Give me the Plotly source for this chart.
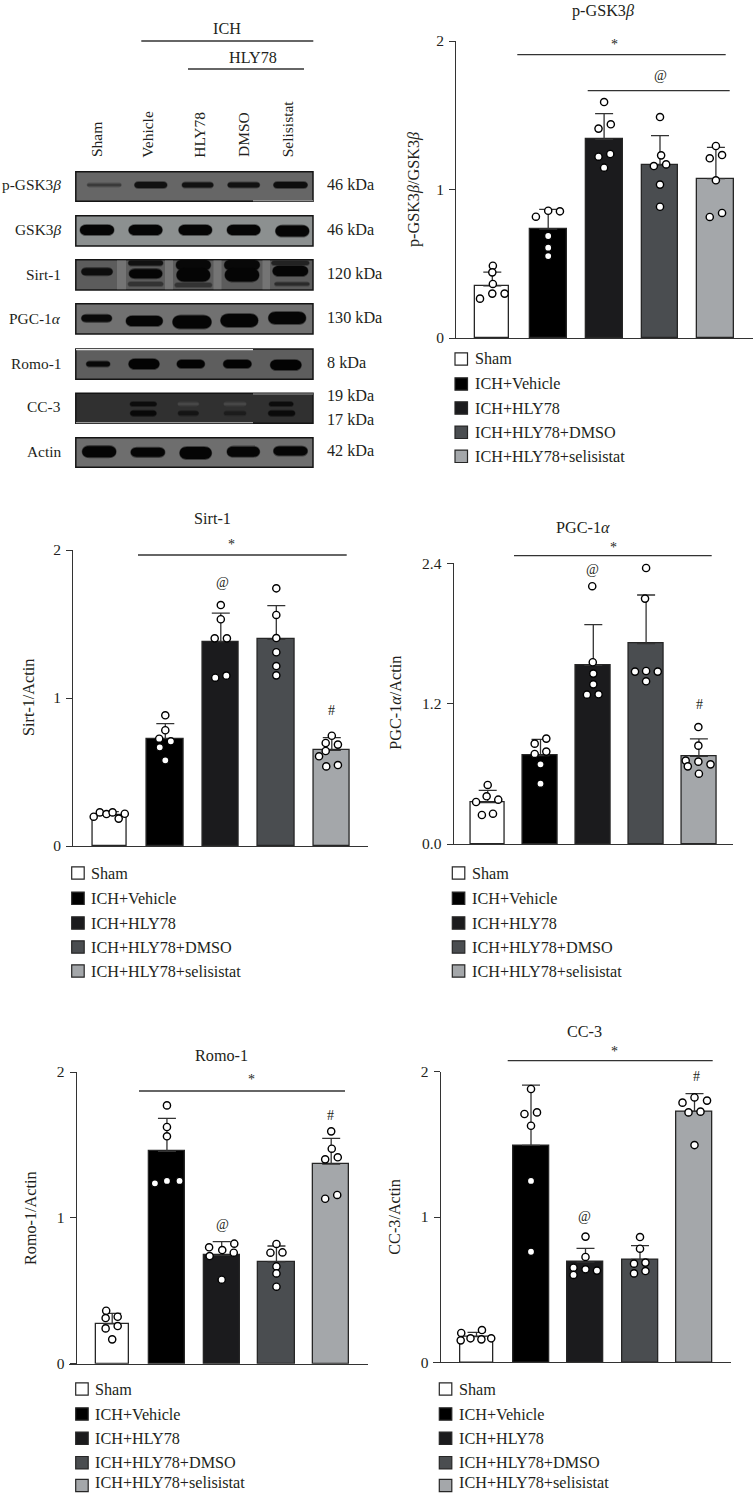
import plotly.graph_objects as go

W, H = 753, 1493
FONT = "Liberation Serif"
TXT = "#231f20"
LINE = "#333333"

GROUPS = ["Sham", "ICH+Vehicle", "ICH+HLY78", "ICH+HLY78+DMSO", "ICH+HLY78+selisistat"]
GROUP_COLORS = ["#ffffff", "#000000", "#1b1b1d", "#4a4d50", "#a4a7aa"]

# --- p-GSK3beta
PGSK_MEAN = [0.352, 0.734, 1.338, 1.163, 1.073]
PGSK_UP = [0.444, 0.866, 1.511, 1.363, 1.284]
PGSK_DOTS = [[.487, .442, .364, .299, .299, .265], [.857, .853, .817, .687, .608, .552],
             [1.589, 1.439, 1.410, 1.239, 1.221, 1.147], [1.488, 1.230, 1.169, 1.158, 1.033, .884],
             [1.293, 1.232, 1.210, 1.062, .842, .815]]
PGSK_OFFS = [[.01, 0, .01, 0, .22, -.22], [0, .21, -.22, 0, 0, 0], [0, .12, -.10, .11, -.10, 0],
             [0, .02, .11, -.11, 0, 0], [0, .11, -.11, 0, .11, -.11]]
# --- Sirt-1
SIRT_MEAN = [0.209, 0.725, 1.381, 1.396, 0.646]
SIRT_UP = [0.232, 0.827, 1.574, 1.624, 0.732]
SIRT_DOTS = [[.198, .227, .216, .227, .185, .218], [.883, .782, .725, .707, .667, .579],
             [1.628, 1.532, 1.403, 1.403, 1.137, 1.151], [1.741, 1.561, 1.405, 1.309, 1.216, 1.153],
             [.745, .696, .685, .642, .606, .538, .547]]
SIRT_OFFS = [[-.29, -.18, -.06, .05, .16, .27], [0, 0, -.11, .10, -.10, 0], [0, 0, -.11, .11, -.10, .10],
             [0, 0, 0, 0, 0, 0], [0, -.11, .11, -.11, -.23, -.10, .11]]
# --- PGC-1alpha
PGC_MEAN = [0.353, 0.755, 1.528, 1.713, 0.750]
PGC_UP = [0.459, 0.895, 1.876, 2.129, 0.898]
PGC_DOTS = [[.505, .408, .359, .379, .248, .259], [.901, .858, .790, .770, .681, .516],
            [2.204, 1.554, 1.457, 1.365, 1.277, 1.280], [2.360, 2.098, 1.474, 1.479, 1.474, 1.391],
            [1.0, .841, .713, .704, .681, .664, .601]]
PGC_OFFS = [[0, -.02, -.22, .20, -.11, .10], [.11, -.11, .11, -.11, 0, 0], [-.02, -.01, 0, 0, -.12, .10],
            [0, -.02, -.21, 0, .22, 0], [-.01, -.01, -.25, -.01, .22, -.21, 0]]
# --- Romo-1
ROMO_MEAN = [0.274, 1.456, 0.743, 0.699, 1.369]
ROMO_UP = [0.345, 1.682, 0.837, 0.807, 1.545]
ROMO_DOTS = [[.363, .313, .322, .258, .242, .167], [1.771, 1.623, 1.559, 1.237, 1.253, 1.253],
             [.823, .798, .779, .761, .738, .576], [.821, .761, .763, .667, .619, .528],
             [1.593, 1.474, 1.415, 1.401, 1.157, 1.131]]
ROMO_OFFS = [[-.11, -.12, .10, .10, -.12, 0], [0, 0, 0, -.22, 0, .23], [.23, -.23, .01, .22, -.22, 0],
             [0, -.11, .11, 0, 0, 0], [0, .01, .12, -.11, .11, -.11]]
# --- CC-3
CC3_MEAN = [0.177, 1.493, 0.690, 0.709, 1.727]
CC3_UP = [0.206, 1.908, 0.784, 0.803, 1.849]
CC3_DOTS = [[.222, .202, .165, .158, .165, .151], [1.881, 1.720, 1.709, 1.628, 1.248, .761],
            [.865, .725, .651, .640, .631, .601], [.862, .782, .679, .686, .628, .612],
            [1.823, 1.801, 1.787, 1.725, 1.720, 1.495]]
CC3_OFFS = [[.10, -.28, -.11, .09, .27, -.29], [0, .11, -.12, 0, 0, 0], [0, 0, -.22, 0, .21, -.22],
            [0, 0, -.11, .10, .10, -.11], [0, .23, -.22, .11, -.11, 0]]

# Blot band intensities/labels
BLOT_ROWS = ["p-GSK3<i>β</i>", "GSK3<i>β</i>", "Sirt-1", "PGC-1<i>α</i>", "Romo-1", "CC-3", "Actin"]
BLOT_KDA = ["46 kDa", "46 kDa", "120 kDa", "130 kDa", "8 kDa", "19 kDa", "17 kDa", "42 kDa"]
BLOT_LANES = ["Sham", "Vehicle", "HLY78", "DMSO", "Selisistat"]


def fx(px):
    return px / W


def fy(py):
    return 1 - py / H


fig = go.Figure()
shapes, annots = [], []
FS = 16.2


def text(x, y, s, size=FS, xa="center", angle=0, ya="middle"):
    annots.append(dict(x=fx(x), y=fy(y), xref="paper", yref="paper", text=s, showarrow=False,
                       xanchor=xa, yanchor=ya, textangle=angle,
                       font=dict(family=FONT, size=size, color=TXT)))


def hline(x0, x1, y, color=LINE, width=1.3):
    shapes.append(dict(type="line", xref="paper", yref="paper", x0=fx(x0), x1=fx(x1), y0=fy(y), y1=fy(y),
                       line=dict(color=color, width=width)))


def panel(i, name, means, ups, dots, offs, ticks, ticktext, ymax, geo, legend):
    ax = "" if i == 1 else str(i)
    xa, ya = "x" + ax, "y" + ax
    x0, x1 = geo["base"]
    c0, pitch = geo["c0"], geo["pitch"]
    widths = [geo.get("w0", .61)] + [.66] * 4
    cats = list(range(len(GROUPS)))
    fig.add_trace(go.Bar(x=cats, y=means, width=widths, name=name, xaxis=xa, yaxis=ya, showlegend=False,
                         customdata=GROUPS,
                         marker=dict(color=GROUP_COLORS, line=dict(color="#262626", width=1.3)),
                         error_y=dict(type="data", symmetric=False,
                                      array=[round(u - m, 3) for u, m in zip(ups, means)],
                                      arrayminus=[0] * 5, color=LINE, thickness=1.3, width=9)))
    xs, ys = [], []
    for g, (vals, off) in enumerate(zip(dots, offs)):
        for v, o in zip(vals, off):
            xs.append(g + o)
            ys.append(v)
    fig.add_trace(go.Scatter(x=xs, y=ys, mode="markers", xaxis=xa, yaxis=ya, showlegend=False, cliponaxis=False,
                             name=name + " samples",
                             marker=dict(color="#ffffff", size=7.2, line=dict(color="#000000", width=1.4))))
    fig.layout[f"xaxis{ax}"] = dict(domain=[fx(x0), fx(x1)], range=[(x0 - c0) / pitch, (x1 - c0) / pitch],
                                    anchor=ya, showticklabels=False, ticks="", showgrid=False, zeroline=False,
                                    showline=True, linecolor=LINE, linewidth=1.3)
    fig.layout[f"yaxis{ax}"] = dict(domain=[fy(geo["y0"]), fy(geo["y1"])], range=[0, ymax], anchor="free",
                                    position=fx(geo["ax"]), tickvals=ticks, ticktext=ticktext, ticks="outside",
                                    ticklen=6, tickwidth=1.3, tickcolor=LINE, showgrid=False, zeroline=False,
                                    showline=True, linecolor=LINE, linewidth=1.3, ticklabelstandoff=2,
                                    tickfont=dict(family=FONT, size=15.5, color=TXT))
    # legend
    for g, yc in zip(range(5), legend["ys"]):
        sx = legend["x"]
        shapes.append(dict(type="rect", xref="paper", yref="paper", x0=fx(sx), x1=fx(sx + 12.5),
                           y0=fy(yc - 6.2), y1=fy(yc + 6.2), fillcolor=GROUP_COLORS[g],
                           line=dict(color="#262626", width=1.2)))
        text(legend["tx"] - 1.5, min(yc + 0.5, 1482.5), GROUPS[g], xa="left")


LEG_MID = [873, 898.3, 923, 947, 971]
LEG_BOT = [1389, 1414, 1438.3, 1462.7, 1485.5]

panel(1, "p-GSK3β", PGSK_MEAN, PGSK_UP, PGSK_DOTS, PGSK_OFFS, [0, 1, 2], ["0", "1", "2"], 2,
      dict(base=(449, 753), ax=455.3, y0=338, y1=41, c0=492.3, pitch=55.9),
      dict(x=455, tx=474, ys=[359, 384, 408, 432.3, 456.3]))
panel(2, "Sirt-1", SIRT_MEAN, SIRT_UP, SIRT_DOTS, SIRT_OFFS, [0, 1, 2], ["0", "1", "2"], 2,
      dict(base=(65.7, 368), ax=72.3, y0=846, y1=550, c0=109.8, pitch=55.5),
      dict(x=71.7, tx=90.3, ys=LEG_MID))
panel(3, "PGC-1α", PGC_MEAN, PGC_UP, PGC_DOTS, PGC_OFFS, [0, 1.2, 2.4], ["0.0", "1.2", "2.4"], 2.4,
      dict(base=(446.7, 733), ax=452.7, y0=844, y1=563.3, c0=487.7, pitch=52.8, w0=.63),
      dict(x=452.3, tx=471.3, ys=LEG_MID))
panel(4, "Romo-1", ROMO_MEAN, ROMO_UP, ROMO_DOTS, ROMO_OFFS, [0, 1, 2], ["0", "1", "2"], 2,
      dict(base=(69, 367.7), ax=75.7, y0=1363.7, y1=1072, c0=112.2, pitch=54.75),
      dict(x=75.7, tx=94.3, ys=LEG_BOT))
panel(5, "CC-3", CC3_MEAN, CC3_UP, CC3_DOTS, CC3_OFFS, [0, 1, 2], ["0", "1", "2"], 2,
      dict(base=(433.3, 730.7), ax=439.7, y0=1362.3, y1=1071.7, c0=476.5, pitch=54.5),
      dict(x=439.3, tx=458.3, ys=LEG_BOT))

# titles
text(603, 10.5, "p-GSK3<i>β</i>")
text(212.7, 519, "Sirt-1")
text(583.3, 527.7, "PGC-1<i>α</i>")
text(221, 1055.7, "Romo-1")
text(584.7, 1031.7, "CC-3")
# y titles
text(414, 189, "p-GSK3<i>β</i>/GSK3<i>β</i>", angle=-90)
text(28.3, 697.7, "Sirt-1/Actin", angle=-90)
text(395.7, 703, "PGC-1<i>α</i>/Actin", angle=-90)
text(31, 1218, "Romo-1/Actin", angle=-90)
text(395, 1216.7, "CC-3/Actin", angle=-90)
# significance marks
for x0, x1, y in [(517.3, 725.7, 54.7), (587.7, 729.7, 90.7), (138, 346.7, 555), (514, 711.7, 555.7),
                  (139, 345, 1091), (507.7, 712.7, 1060.7)]:
    hline(x0, x1, y)
for x, y, s in [(614, 44, "*"), (660, 75, "@"), (231, 544, "*"), (222, 582, "@"), (331.7, 710.7, "#"),
                (613, 547, "*"), (592.3, 569.7, "@"), (699, 704, "#"), (251, 1079, "*"), (222, 1224, "@"),
                (330.3, 1115, "#"), (614, 1051, "*"), (584.3, 1216, "@"), (696.7, 1076, "#")]:
    text(x, y, s, size=14)

# --- blot panel
ROW_Y = [(171.7, 201.3), (215.7, 246), (259.7, 290), (303.7, 334), (349, 379.3), (393.3, 423.3), (437.7, 467.3)]
ROW_BG = ["#666666", "#8c9090", "#5c5c5c", "#717171", "#5e5e5e", "#303030", "#6e6e6e"]
ROW_LABEL_Y = [185, 230, 274, 318, 363, 407, 451]
KDA_Y = [185, 230, 274, 318, 363, 396, 420, 451]
LANE_X = [96, 146.7, 199.3, 243, 287.3]
# x0, x1, yc, h, colour
BANDS = [
    (86.7, 121.7, 185, 2.6, "#3a3a3a"), (133.3, 168.3, 185, 6, "#111111"), (181, 214.3, 185, 5, "#111111"),
    (226.7, 260.7, 185, 5, "#111111"), (272.3, 308.7, 185, 6, "#0d0d0d"),
    (78, 116, 230, 10, "#050505"), (126.7, 164.3, 230, 10, "#050505"), (176.7, 214, 230, 10, "#050505"),
    (225, 262.3, 230, 10, "#050505"), (273.3, 311.3, 231, 11, "#050505"),
    (127.3, 164, 263, 5, "#111111"), (174, 212.7, 265, 10, "#080808"), (222.3, 261.7, 265, 10, "#080808"),
    (270.7, 310, 263, 4, "#222222"),
    (80, 114, 271.7, 7, "#0d0d0d"), (127.3, 164, 273.7, 9, "#050505"), (174, 212.7, 275, 13, "#050505"),
    (222.3, 261.7, 275, 13, "#050505"), (270.7, 310, 271, 10, "#050505"), (274, 310, 284, 3, "#2a2a2a"),
    (127.3, 164, 284, 4, "#333333"), (174, 212.7, 285, 4, "#333333"),
    (80, 113.3, 318.3, 7, "#0a0a0a"), (124, 164.7, 321, 10, "#050505"), (170, 214, 322, 13, "#050505"),
    (218, 260.7, 320.5, 13, "#050505"), (266, 308.3, 318, 12, "#050505"),
    (85.3, 111, 364, 5, "#080808"), (126.7, 161.3, 364, 10, "#030303"), (175.3, 206.3, 364, 8, "#030303"),
    (221.7, 253, 364, 8, "#030303"), (268.3, 303.3, 365, 10, "#030303"),
    (129.3, 157.3, 404, 4, "#0c0c0c"), (129.3, 157.3, 413.3, 5, "#080808"), (177.3, 199.3, 404, 2.6, "#474747"),
    (177.3, 199.3, 413.3, 4, "#141414"), (223.3, 246.7, 404, 2.6, "#474747"), (223.3, 246.7, 413.3, 3.6, "#1c1c1c"),
    (268.3, 294, 404, 4, "#0c0c0c"), (267.3, 296, 413.3, 5, "#0a0a0a"),
    (80, 118.3, 451.7, 11, "#050505"), (129, 166.7, 452.3, 9, "#050505"), (177.3, 214, 453, 12, "#050505"),
    (225, 261.7, 451.7, 10, "#050505"), (271.7, 309.3, 451, 9, "#050505"),
]


def band_path(x0, x1, yc, h):
    r = min(h / 2, (x1 - x0) / 4) * 1.6
    t, b = yc - h / 2, yc + h / 2
    p = lambda x, y: f"{fx(x):.5f},{fy(y):.5f}"
    return (f"M{p(x0 + r, t)} L{p(x1 - r, t)} C{p(x1, t)} {p(x1, b)} {p(x1 - r, b)} "
            f"L{p(x0 + r, b)} C{p(x0, b)} {p(x0, t)} {p(x0 + r, t)} Z")


for (y0, y1), bg in zip(ROW_Y, ROW_BG):
    shapes.append(dict(type="rect", xref="paper", yref="paper", x0=fx(75.8), x1=fx(313), y0=fy(y0), y1=fy(y1),
                       fillcolor=bg, line=dict(color="#141414", width=1.5)))
# lighter gaps between the Sirt-1 lanes
for x0, x1 in [(117, 126), (165, 173), (213.5, 221.5), (262.5, 270)]:
    shapes.append(dict(type="rect", xref="paper", yref="paper", x0=fx(x0), x1=fx(x1), y0=fy(260.5), y1=fy(289.2),
                       fillcolor="#747474", line=dict(width=0)))
for x0, x1, yc, h, col in BANDS:
    shapes.append(dict(type="path", xref="paper", yref="paper", path=band_path(x0 - 1, x1 + 1, yc, h + 2.2),
                       fillcolor=col, opacity=0.45, line=dict(width=0)))
    shapes.append(dict(type="path", xref="paper", yref="paper", path=band_path(x0, x1, yc, h),
                       fillcolor=col, line=dict(width=0)))
# image seams
hline(76, 253, 349.6, "#e8e8e8", 1.2)
hline(76, 253, 422.6, "#9a9a9a", 1.2)
hline(253, 313, 394, "#9a9a9a", 1.2)
hline(253, 313, 200.8, "#b5b5b5", 1)
hline(141.3, 313.3, 41)
hline(188, 304, 69)
text(226.7, 29, "ICH")
text(252.7, 58, "HLY78")
for s, y in zip(BLOT_ROWS, ROW_LABEL_Y):
    text(63.5, y, s, size=15.4, xa="right")
for s, y in zip(BLOT_KDA, KDA_Y):
    text(325, y, s, xa="left")
for s, x in zip(BLOT_LANES, LANE_X):
    text(x, 159.5, s, size=15.5, angle=-90, ya="bottom")

fig.update_layout(width=W, height=H, margin=dict(l=0, r=0, t=0, b=0, pad=0, autoexpand=False), paper_bgcolor="white",
                  plot_bgcolor="rgba(0,0,0,0)", showlegend=False, shapes=shapes, annotations=annots,
                  bargap=0, font=dict(family=FONT, color=TXT))
fig.write_html("out.html", config={"displayModeBar": False},
               post_script="document.body.style.margin='0';document.documentElement.style.overflow='hidden';")
